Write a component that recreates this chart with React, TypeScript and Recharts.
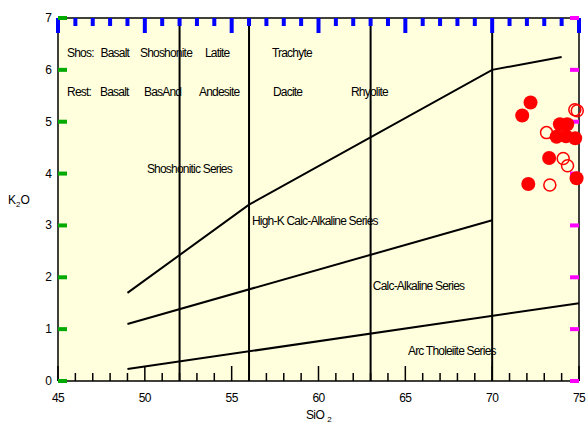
import {
  ComposedChart, XAxis, YAxis, Scatter, ReferenceLine, CartesianGrid,
} from 'recharts'

// field boundaries (SiO2, K2O)
const SHOS_HIGHK = [
  { x: 49, y: 1.7 },
  { x: 56, y: 3.4 },
  { x: 70, y: 6.0 },
  { x: 74, y: 6.25 },
]
const HIGHK_CA = [
  { x: 49, y: 1.1 },
  { x: 70, y: 3.1 },
]
const CA_THOL = [
  { x: 49, y: 0.23 },
  { x: 75, y: 1.5 },
]
const SIO2_DIVIDES = [52, 56, 63, 70]

const FILLED = [
  { x: 72.21, y: 5.37 },
  { x: 71.73, y: 5.12 },
  { x: 73.9, y: 4.95 },
  { x: 74.32, y: 4.95 },
  { x: 73.71, y: 4.71 },
  { x: 74.25, y: 4.72 },
  { x: 74.78, y: 4.68 },
  { x: 73.28, y: 4.3 },
  { x: 74.86, y: 3.91 },
  { x: 72.08, y: 3.8 },
]
const OPEN = [
  { x: 74.76, y: 5.23 },
  { x: 74.9, y: 5.21 },
  { x: 73.13, y: 4.79 },
  { x: 74.09, y: 4.29 },
  { x: 74.34, y: 4.15 },
  { x: 73.32, y: 3.78 },
]

const LABELS = [
  { text: 'Shos:', x: 45.52, y: 6.33 },
  { text: 'Basalt', x: 47.45, y: 6.33 },
  { text: 'Shoshonite', x: 49.72, y: 6.33 },
  { text: 'Latite', x: 53.46, y: 6.33 },
  { text: 'Trachyte', x: 57.32, y: 6.33 },
  { text: 'Rest:', x: 45.52, y: 5.57 },
  { text: 'Basalt', x: 47.42, y: 5.57 },
  { text: 'BasAnd', x: 49.95, y: 5.57 },
  { text: 'Andesite', x: 53.12, y: 5.57 },
  { text: 'Dacite', x: 57.38, y: 5.57 },
  { text: 'Rhyolite', x: 61.87, y: 5.57 },
  { text: 'Shoshonitic Series', x: 50.12, y: 4.09 },
  { text: 'High-K Calc-Alkaline Series', x: 56.17, y: 3.09 },
  { text: 'Calc-Alkaline Series', x: 63.13, y: 1.83 },
  { text: 'Arc Tholeiite Series', x: 65.15, y: 0.58 },
]

const X_DOMAIN = [45, 75]
const Y_DOMAIN = [0, 7]
const X_TICKS = Array.from({ length: 31 }, (_, i) => 45 + i)
const X_LABELS = [45, 50, 55, 60, 65, 70, 75]
const Y_TICKS = [0, 1, 2, 3, 4, 5, 6, 7]

const FONT = '"Liberation Sans", Arial, sans-serif'
const BG = '#FFFFDD'
const AXIS_LINE = { stroke: '#000', strokeWidth: 1.5 }

// tick anchors on the four sides of the frame
const BOTTOM_TICKS = X_TICKS.map((v) => ({ x: v, y: Y_DOMAIN[0] }))
const TOP_TICKS = X_TICKS.map((v) => ({ x: v, y: Y_DOMAIN[1] }))
const LEFT_TICKS = Y_TICKS.map((v) => ({ x: X_DOMAIN[0], y: v }))
const RIGHT_TICKS = Y_TICKS.map((v) => ({ x: X_DOMAIN[1], y: v }))

// debug colours to find out whether the side ticks are drawn at all
const tickLen = (p: any) => (X_LABELS.includes(p.payload.x) ? 15 : 8)
const upTick = (p: any) => (
  <line x1={p.cx} x2={p.cx} y1={p.cy} y2={p.cy - tickLen(p)} stroke="#000" strokeWidth={1.5} />
)
const downTick = (p: any) => (
  <line x1={p.cx} x2={p.cx} y1={p.cy} y2={p.cy + tickLen(p)} stroke="#0000FF" strokeWidth={4} />
)
const rightTick = (p: any) => (
  <line x1={p.cx} x2={p.cx + 9} y1={p.cy} y2={p.cy} stroke="#00AA00" strokeWidth={4} />
)
const leftTick = (p: any) => (
  <line x1={p.cx} x2={p.cx - 9} y1={p.cy} y2={p.cy} stroke="#FF00FF" strokeWidth={4} />
)

function BottomLabel({ x, y, payload }: any) {
  if (!X_LABELS.includes(payload.value)) return <g />
  return (
    <text x={x} y={y + 17} textAnchor="middle" dominantBaseline="central"
      fontSize={12} letterSpacing={-0.6} fontFamily={FONT} fill="#000">
      {payload.value}
    </text>
  )
}

function LeftLabel({ x, y, payload }: any) {
  return (
    <text x={x - 6} y={y} textAnchor="end" dominantBaseline="central"
      fontSize={12} fontFamily={FONT} fill="#000">
      {payload.value}
    </text>
  )
}

function SiO2Label({ viewBox }: any) {
  const cx = viewBox.x + viewBox.width / 2
  return (
    <text x={cx} y={viewBox.y + 38} textAnchor="middle" fontSize={12} letterSpacing={-0.6}
      fontFamily={FONT} fill="#000">
      SiO<tspan dx={3} dy={3} fontSize={8}>2</tspan>
    </text>
  )
}

function K2OLabel({ viewBox }: any) {
  return (
    <text x={viewBox.x - 10} y={viewBox.y + 186} fontSize={12} fontFamily={FONT} fill="#000">
      K<tspan dy={3} fontSize={8}>2</tspan><tspan dy={-3}>O</tspan>
    </text>
  )
}

const filledDot = (p: any) => <circle cx={p.cx} cy={p.cy} r={7} fill="#FF0000" />
const openDot = (p: any) => (
  <circle cx={p.cx} cy={p.cy} r={6} fill="none" stroke="#FF0000" strokeWidth={1.5} />
)
const labelShape = (p: any) => (
  <text x={p.cx} y={p.cy} dominantBaseline="central" fontSize={12} letterSpacing={-0.8}
    fontFamily={FONT} fill="#000">
    {p.payload.text}
  </text>
)
const noDot = () => <g />

export default function App() {
  const lineStyle = { stroke: '#000', strokeWidth: 2 }
  return (
    <div style={{ position: 'absolute', left: 0, top: 0 }}>
      <ComposedChart width={587} height={426} margin={{ top: 17, right: 7, left: 18, bottom: 15 }}>
        <CartesianGrid horizontal={false} vertical={false} fill={BG} fillOpacity={1} />
        <XAxis dataKey="x" type="number" domain={X_DOMAIN} ticks={X_TICKS} interval={0}
          height={30} tickSize={0} tickMargin={0} tickLine={false} tick={<BottomLabel />}
          axisLine={AXIS_LINE} label={<SiO2Label />} />
        <XAxis xAxisId="t" orientation="top" dataKey="x" type="number" domain={X_DOMAIN}
          height={1} tickLine={false} tick={false} axisLine={AXIS_LINE} />
        <YAxis dataKey="y" type="number" domain={Y_DOMAIN} ticks={Y_TICKS} interval={0} width={40}
          tickSize={0} tickMargin={0} tickLine={false} tick={<LeftLabel />}
          axisLine={AXIS_LINE} label={<K2OLabel />} />
        <YAxis yAxisId="r" orientation="right" dataKey="y" type="number" domain={Y_DOMAIN}
          width={1} tickLine={false} tick={false} axisLine={AXIS_LINE} />

        {SIO2_DIVIDES.map((v) => (
          <ReferenceLine key={v} x={v} stroke="#000" strokeWidth={2} />
        ))}

        <Scatter data={BOTTOM_TICKS} shape={upTick} isAnimationActive={false} />
        <Scatter data={TOP_TICKS} shape={downTick} isAnimationActive={false} />
        <Scatter data={LEFT_TICKS} shape={rightTick} isAnimationActive={false} />
        <Scatter data={RIGHT_TICKS} shape={leftTick} isAnimationActive={false} />

        <Scatter data={SHOS_HIGHK} line={lineStyle} lineType="joint" shape={noDot} isAnimationActive={false} />
        <Scatter data={HIGHK_CA} line={lineStyle} lineType="joint" shape={noDot} isAnimationActive={false} />
        <Scatter data={CA_THOL} line={lineStyle} lineType="joint" shape={noDot} isAnimationActive={false} />

        <Scatter data={LABELS} xAxisId="t" yAxisId="r" shape={labelShape} isAnimationActive={false} />

        <Scatter data={OPEN} shape={openDot} isAnimationActive={false} />
        <Scatter data={FILLED} shape={filledDot} isAnimationActive={false} />
      </ComposedChart>
    </div>
  )
}
